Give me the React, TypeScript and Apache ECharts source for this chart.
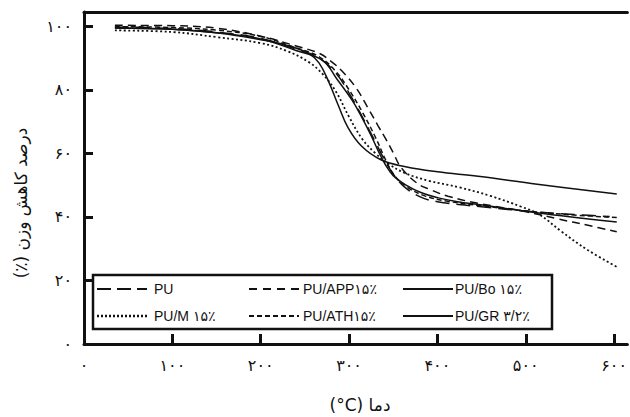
import React, { useEffect, useRef } from "react";
import * as echarts from "echarts";

// ---- data (temperature °C, weight %) ----
const puT = [35, 100, 150, 200, 240, 265, 285, 300, 315, 330, 340, 350, 362, 380, 400, 450, 510, 560, 595];
const puW = [99.8, 99.3, 98.2, 96.2, 92.8, 90.2, 85.3, 79, 71.5, 63.5, 58, 53.5, 49.6, 46.4, 44.8, 43.2, 41.6, 40.7, 40.1];

const appT = [35, 100, 150, 200, 240, 266, 280, 292, 308, 322, 333, 342, 350, 359, 378, 393, 412, 446, 499, 536, 573, 603];
const appW = [100.3, 100.2, 99.4, 96.9, 93.8, 91.5, 88.9, 85.9, 80.6, 74, 68.6, 64.3, 60.2, 55.5, 50.4, 48.5, 46.5, 44.3, 41.7, 39.4, 37.2, 35.3];

const boT = [35, 100, 150, 200, 230, 254, 266, 277, 288, 299, 314, 336, 364, 400, 446, 513, 603];
const boW = [99.5, 99.1, 98, 95.8, 94, 91.5, 88.5, 82.5, 75, 68, 62.3, 58, 55.8, 54.2, 52.8, 50.3, 47.2];

const mT = [35, 100, 150, 200, 230, 254, 270, 285, 300, 315, 330, 345, 365, 390, 425, 460, 495, 515, 540, 570, 603];
const mW = [98.7, 98.2, 96.6, 94.7, 92.2, 88.8, 85, 79.5, 71.5, 64.5, 60, 56.6, 53.6, 51.4, 49.3, 46.6, 43.2, 40.8, 35.5, 29.6, 24.3];

const athT = [35, 100, 150, 200, 240, 265, 285, 300, 315, 330, 342, 352, 365, 385, 410, 450, 510, 560, 603];
const athW = [99.9, 99.6, 98.8, 96.8, 93.2, 90.6, 85.8, 80, 73, 65, 57.6, 52.8, 49.5, 46.7, 45, 43.5, 41.6, 40.5, 39.8];

const grT = [35, 100, 150, 200, 240, 270, 286, 303, 314, 325, 333, 341, 350, 364, 382, 401, 423, 446, 510, 603];
const grW = [99.5, 99.1, 98, 96, 92.4, 89.3, 83.5, 76.9, 71.6, 65.6, 60.8, 56.5, 53, 50.1, 47.6, 46, 44.8, 43.9, 41.4, 38.4];

const seriesNames = ["PU", "PU/APP۱۵٪", "PU/Bo ۱۵٪", "PU/M ۱۵٪", "PU/ATH ۱۵٪", "PU/GR ۳/۲٪"];
const legendLabels = ["PU", "PU/APP۱۵٪", "PU/Bo ۱۵٪", "PU/M ۱۵٪", "PU/ATH۱۵٪", "PU/GR ۳/۲٪"];

const xTicks = [0, 100, 200, 300, 400, 500, 600];
const xTickLabels = ["۰", "۱۰۰", "۲۰۰", "۳۰۰", "۴۰۰", "۵۰۰", "۶۰۰"];
const yTicks = [0, 20, 40, 60, 80, 100];
const yTickLabels = ["۰", "۲۰", "۴۰", "۶۰", "۸۰", "۱۰۰"];

const xTitle = "\u202Bدما (\u200E°C)\u202C";
const yTitle = "\u202Bدرصد کاهش وزن (٪)\u202C";

const pairs = (t: number[], w: number[]) => t.map((v, i) => [v, w[i]]);

const FONT = "'Liberation Sans', 'DejaVu Sans', sans-serif";
const PFONT = "'DejaVu Sans', sans-serif";

export default function App() {
  const ref = useRef<HTMLDivElement>(null);
  useEffect(() => {
    if (!ref.current) return;
    const chart = echarts.init(ref.current, undefined, { renderer: "svg" });

    const styles: { dash: number[] | "solid"; width: number }[] = [
      { dash: [14, 7], width: 1.5 },
      { dash: [8, 5], width: 1.5 },
      { dash: "solid", width: 1.5 },
      { dash: [2, 2.5], width: 1.8 },
      { dash: [5, 3], width: 1.5 },
      { dash: "solid", width: 1.5 },
    ];
    const datas = [
      pairs(puT, puW),
      pairs(appT, appW),
      pairs(boT, boW),
      pairs(mT, mW),
      pairs(athT, athW),
      pairs(grT, grW),
    ];

    const series = datas.map((d, i) => ({
      name: seriesNames[i],
      type: "line",
      data: d,
      smooth: 0.4,
      showSymbol: false,
      symbol: "none",
      lineStyle: { color: "#111", width: styles[i].width, type: styles[i].dash },
      z: 3,
    }));

    const legendCols = [
      { lx: 97, tx: 154 },
      { lx: 249, tx: 303 },
      { lx: 403, tx: 455 },
    ];
    const legendRows = [289, 316];
    const legendDash: (number[] | null)[] = [[14, 6], [8, 6], null, [2, 2], [5, 3], null];
    const legendItems: any[] = [];
    for (let i = 0; i < 6; i++) {
      const col = i % 3;
      const row = Math.floor(i / 3);
      const y = legendRows[row];
      const c = legendCols[col];
      legendItems.push({
        type: "line",
        shape: { x1: c.lx, y1: y, x2: c.lx + 50, y2: y },
        style: {
          stroke: "#111",
          lineWidth: i === 3 ? 2.5 : 2.2,
          lineDash: legendDash[i] || undefined,
        },
        z: 11,
      });
      legendItems.push({
        type: "text",
        x: c.tx,
        y: y,
        style: {
          text: legendLabels[i],
          fill: "#111",
          font: `14px ${FONT}`,
          textVerticalAlign: "middle",
        },
        z: 11,
      });
    }

    chart.setOption({
      animation: false,
      backgroundColor: "#fff",
      grid: { left: 84, right: 0, top: 12, bottom: 73, containLabel: false },
      xAxis: [
        {
          type: "value",
          min: 0,
          max: 615,
          interval: 100,
          axisLine: { show: true, lineStyle: { color: "#111", width: 3 } },
          axisTick: {
            show: true,
            inside: true,
            length: 10,
            lineStyle: { color: "#111", width: 3 },
            customValues: xTicks,
          },
          axisLabel: {
            show: true,
            margin: 13,
            color: "#111",
            fontSize: 16,
            fontFamily: PFONT,
            customValues: xTicks,
            formatter: (v: number) => {
              const k = xTicks.indexOf(v);
              return k >= 0 ? xTickLabels[k] : "";
            },
          },
          splitLine: { show: false },
        },
        {
          type: "value",
          position: "top",
          min: 0,
          max: 615,
          axisLine: { show: true, onZero: false, lineStyle: { color: "#111", width: 3 } },
          axisTick: { show: false },
          axisLabel: { show: false },
          splitLine: { show: false },
        },
      ],
      yAxis: {
        type: "value",
        min: 0,
        max: 104.5,
        interval: 20,
        axisLine: { show: true, lineStyle: { color: "#111", width: 3 } },
        axisTick: {
          show: true,
          inside: true,
          length: 9,
          lineStyle: { color: "#111", width: 3 },
          customValues: yTicks,
        },
        axisLabel: {
          show: true,
          margin: 12,
          color: "#111",
          fontSize: 16,
          fontFamily: PFONT,
          customValues: yTicks,
          formatter: (v: number) => {
            const k = yTicks.indexOf(v);
            return k >= 0 ? yTickLabels[k] : "";
          },
        },
        splitLine: { show: false },
      },
      series,
      graphic: [
        {
          type: "rect",
          shape: { x: 93, y: 275, width: 459, height: 54 },
          style: { fill: "#fff", stroke: "#111", lineWidth: 2.5 },
          z: 10,
        },
        ...legendItems,
        {
          type: "text",
          x: 360,
          y: 405,
          style: {
            text: xTitle,
            fill: "#111",
            font: `17px ${PFONT}`,
            textAlign: "center",
            textVerticalAlign: "middle",
          },
        },
        {
          type: "text",
          x: 21,
          y: 203,
          rotation: Math.PI / 2,
          style: {
            text: yTitle,
            fill: "#111",
            font: `17px ${PFONT}`,
            textAlign: "center",
            textVerticalAlign: "middle",
          },
        },
      ],
    });
    return () => chart.dispose();
  }, []);
  return (
    <div
      ref={ref}
      style={{ position: "fixed", left: 0, top: 0, width: 630, height: 417, background: "#fff" }}
    />
  );
}
